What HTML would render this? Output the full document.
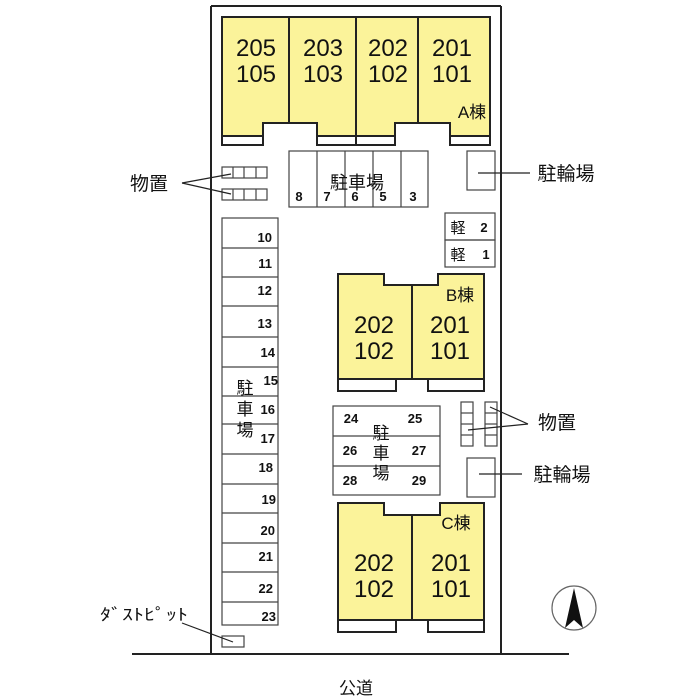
<!DOCTYPE html>
<html><head><meta charset="utf-8"><style>
html,body{margin:0;padding:0;background:#fff;}
svg{display:block;}
text{font-family:"Liberation Sans","Noto Sans CJK JP",sans-serif;fill:#111;}
</style></head><body>
<svg width="700" height="700" viewBox="0 0 700 700" xmlns="http://www.w3.org/2000/svg">
<g stroke="#222" fill="none" stroke-width="2">
<line x1="211" y1="6" x2="211" y2="654"/>
<line x1="211" y1="6" x2="501" y2="6"/>
<line x1="501" y1="6" x2="501" y2="654"/>
<line x1="132" y1="654" x2="569" y2="654"/>
</g>
<!-- Building A -->
<path d="M222,17 H490 V136 H450 V123 H395 V136 H317 V123 H263 V136 H222 Z" fill="#fbf39a" stroke="none"/>
<g stroke="#222" fill="none" stroke-width="2">
<path d="M222,17 H490 V145 H450 V123 H395 V145 H317 V123 H263 V145 H222 Z"/>
<line x1="222" y1="136" x2="263" y2="136"/><line x1="317" y1="136" x2="395" y2="136"/><line x1="450" y1="136" x2="490" y2="136"/>
<line x1="289" y1="17" x2="289" y2="123"/><line x1="356" y1="17" x2="356" y2="145"/><line x1="418" y1="17" x2="418" y2="123"/>
</g>
<g font-size="24" text-anchor="middle">
<text x="256" y="56">205</text><text x="256" y="82">105</text>
<text x="323" y="56">203</text><text x="323" y="82">103</text>
<text x="388" y="56">202</text><text x="388" y="82">102</text>
<text x="452" y="56">201</text><text x="452" y="82">101</text>
</g>
<text x="472" y="118" font-size="17" text-anchor="middle">A棟</text>
<g stroke="#444" fill="none" stroke-width="1.2">
<rect x="289" y="151" width="139" height="56"/>
<line x1="317" y1="151" x2="317" y2="207"/><line x1="345" y1="151" x2="345" y2="207"/><line x1="373" y1="151" x2="373" y2="207"/><line x1="401" y1="151" x2="401" y2="207"/>
<rect x="467" y="151" width="28" height="39"/>
<line x1="478" y1="173" x2="530" y2="173" stroke="#222"/>
<rect x="445" y="213" width="50" height="27"/><rect x="445" y="240" width="50" height="27"/>
<rect x="222" y="167" width="45" height="11"/><line x1="233" y1="167" x2="233" y2="178"/><line x1="244" y1="167" x2="244" y2="178"/><line x1="256" y1="167" x2="256" y2="178"/>
<rect x="222" y="189" width="45" height="11"/><line x1="233" y1="189" x2="233" y2="200"/><line x1="244" y1="189" x2="244" y2="200"/><line x1="256" y1="189" x2="256" y2="200"/>
<line x1="182" y1="183" x2="231" y2="174" stroke="#222"/><line x1="182" y1="183" x2="231" y2="194" stroke="#222"/>
</g>
<text x="357" y="189" font-size="18" text-anchor="middle">駐車場</text>
<g font-size="13" font-weight="bold" text-anchor="middle">
<text x="299" y="201">8</text><text x="327" y="201">7</text><text x="355" y="201">6</text><text x="383" y="201">5</text><text x="413" y="201">3</text>
<text x="484" y="232">2</text><text x="486" y="259">1</text>
</g>
<text x="458" y="233" font-size="15" text-anchor="middle">軽</text><text x="458" y="260" font-size="15" text-anchor="middle">軽</text>
<text x="566" y="180" font-size="19" text-anchor="middle">駐輪場</text>
<text x="149" y="190" font-size="19" text-anchor="middle">物置</text>
<g stroke="#444" fill="none" stroke-width="1.2">
<rect x="222" y="218" width="56" height="407"/>
<line x1="222" y1="248" x2="278" y2="248"/><line x1="222" y1="277" x2="278" y2="277"/><line x1="222" y1="306" x2="278" y2="306"/><line x1="222" y1="337" x2="278" y2="337"/><line x1="222" y1="367" x2="278" y2="367"/><line x1="222" y1="396" x2="278" y2="396"/><line x1="222" y1="424" x2="278" y2="424"/><line x1="222" y1="454" x2="278" y2="454"/><line x1="222" y1="484" x2="278" y2="484"/><line x1="222" y1="513" x2="278" y2="513"/><line x1="222" y1="543" x2="278" y2="543"/><line x1="222" y1="572" x2="278" y2="572"/><line x1="222" y1="602" x2="278" y2="602"/>
</g>
<g font-size="13" font-weight="bold" text-anchor="end">
<text x="272" y="242">10</text><text x="272" y="268">11</text><text x="272" y="295">12</text><text x="272" y="328">13</text><text x="275" y="357">14</text><text x="278" y="385">15</text><text x="275" y="414">16</text><text x="275" y="443">17</text><text x="273" y="472">18</text><text x="276" y="504">19</text><text x="275" y="535">20</text><text x="273" y="561">21</text><text x="273" y="593">22</text><text x="276" y="621">23</text>
</g>
<g font-size="17" text-anchor="middle"><text x="245" y="394">駐</text><text x="245" y="415">車</text><text x="245" y="436">場</text></g>
<!-- Building B -->
<path d="M338,274 H384 V285 H438 V274 H484 V379 H338 Z" fill="#fbf39a" stroke="#222" stroke-width="2"/>
<g stroke="#222" fill="none" stroke-width="2">
<line x1="412" y1="285" x2="412" y2="379"/>
<path d="M338,379 V391 H396 V379"/><path d="M428,379 V391 H484 V379"/>
</g>
<g font-size="24" text-anchor="middle">
<text x="374" y="333">202</text><text x="374" y="359">102</text>
<text x="450" y="333">201</text><text x="450" y="359">101</text>
</g>
<text x="460" y="301" font-size="17" text-anchor="middle">B棟</text>
<g stroke="#444" fill="none" stroke-width="1.2">
<rect x="333" y="406" width="107" height="89"/><line x1="333" y1="436" x2="440" y2="436"/><line x1="333" y1="466" x2="440" y2="466"/>
<rect x="461" y="402" width="12" height="44"/><line x1="461" y1="413" x2="473" y2="413"/><line x1="461" y1="424" x2="473" y2="424"/><line x1="461" y1="435" x2="473" y2="435"/>
<rect x="485" y="402" width="12" height="44"/><line x1="485" y1="413" x2="497" y2="413"/><line x1="485" y1="424" x2="497" y2="424"/><line x1="485" y1="435" x2="497" y2="435"/>
<line x1="528" y1="424" x2="490" y2="407" stroke="#222"/><line x1="528" y1="424" x2="468" y2="430" stroke="#222"/>
<rect x="467" y="458" width="28" height="39"/><line x1="479" y1="474" x2="522" y2="474" stroke="#222"/>
</g>
<g font-size="13" font-weight="bold" text-anchor="middle">
<text x="351" y="423">24</text><text x="415" y="423">25</text><text x="350" y="455">26</text><text x="419" y="455">27</text><text x="350" y="485">28</text><text x="419" y="485">29</text>
</g>
<g font-size="17" text-anchor="middle"><text x="381" y="439">駐</text><text x="381" y="459">車</text><text x="381" y="479">場</text></g>
<text x="557" y="429" font-size="19" text-anchor="middle">物置</text>
<text x="562" y="481" font-size="19" text-anchor="middle">駐輪場</text>
<!-- Building C -->
<path d="M338,503 H384 V515 H440 V503 H484 V620 H338 Z" fill="#fbf39a" stroke="#222" stroke-width="2"/>
<g stroke="#222" fill="none" stroke-width="2">
<line x1="412" y1="515" x2="412" y2="620"/>
<path d="M338,620 V632 H396 V620"/><path d="M428,620 V632 H484 V620"/>
</g>
<g font-size="24" text-anchor="middle">
<text x="374" y="571">202</text><text x="374" y="597">102</text>
<text x="451" y="571">201</text><text x="451" y="597">101</text>
</g>
<text x="456" y="529" font-size="17" text-anchor="middle">C棟</text>
<rect x="222" y="636" width="22" height="11" fill="none" stroke="#444" stroke-width="1.2"/>
<line x1="182" y1="623" x2="233" y2="642" stroke="#222" stroke-width="1.2"/>
<text x="100" y="620" font-size="16" textLength="88" lengthAdjust="spacingAndGlyphs">ﾀﾞｽﾄﾋﾟｯﾄ</text>
<circle cx="574" cy="608" r="22" fill="none" stroke="#666" stroke-width="1.2"/>
<path d="M574,588 L565,628 L574,620 L583,628 Z" fill="#111"/>
<text x="356" y="694" font-size="17" text-anchor="middle">公道</text>
</svg>
</body></html>
